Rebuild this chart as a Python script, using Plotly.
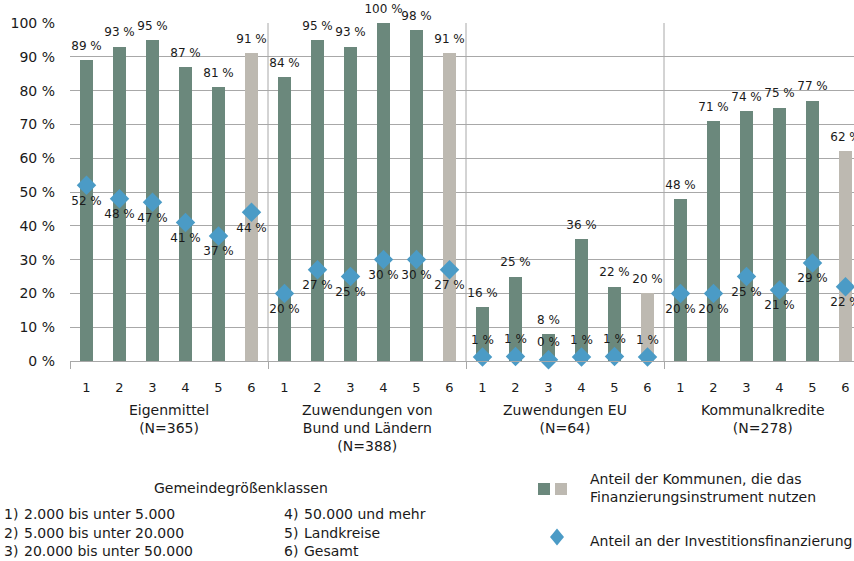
import plotly.graph_objects as go

# Gemeindegrößenklassen 1-6 within each financing instrument
classes = ["1", "2", "3", "4", "5", "6"]
instruments = [
    "Eigenmittel<br>(N=365)",
    "Zuwendungen von<br>Bund und Ländern<br>(N=388)",
    "Zuwendungen EU<br>(N=64)",
    "Kommunalkredite<br>(N=278)",
]

# Share of municipalities using the instrument (%)
usage_eigen = [89, 93, 95, 87, 81, 91]
usage_bund = [84, 95, 93, 100, 98, 91]
usage_eu = [16, 25, 8, 36, 22, 20]
usage_kredit = [48, 71, 74, 75, 77, 62]

# Share in investment financing (%)
invest_eigen = [52, 48, 47, 41, 37, 44]
invest_bund = [20, 27, 25, 30, 30, 27]
invest_eu = [1.2, 1.3, 0.4, 1.2, 1.3, 1.2]
invest_kredit = [20, 20, 25, 21, 29, 22]

legend_classes = [
    ("1)", "2.000 bis unter 5.000"),
    ("2)", "5.000 bis unter 20.000"),
    ("3)", "20.000 bis unter 50.000"),
    ("4)", "50.000 und mehr"),
    ("5)", "Landkreise"),
    ("6)", "Gesamt"),
]

GREEN = "#6B887C"
GREY = "#BDB9B1"
BLUE = "#4B9BC6"
GRID = "#A8A8A8"
FONT = "DejaVu Sans"
TXT = "#1A1A1A"

usage = usage_eigen + usage_bund + usage_eu + usage_kredit
invest = invest_eigen + invest_bund + invest_eu + invest_kredit
n_cls = len(classes)
n_grp = len(instruments)
xs = list(range(n_cls * n_grp))
bar_colors = [GREY if i % n_cls == n_cls - 1 else GREEN for i in xs]

# plot-area geometry in pixels (used to place the annotations below the axis)
W, H = 854, 561
L, T, B = 70, 23, 361
unit = 33.0
x_end = -0.5 + (W - L) / unit


def px(p):
    return (p - L) / (W - L)


def py(p):
    return (B - p) / (B - T)


fig = go.Figure()

fig.add_trace(go.Bar(
    x=xs, y=usage, width=0.4, marker=dict(color=bar_colors, line=dict(width=0)),
    hoverinfo="skip", showlegend=False,
))

# value labels above the bars
fig.add_trace(go.Scatter(
    x=xs, y=usage, mode="markers+text",
    marker=dict(size=10, opacity=0),
    text=[f"{v:.0f} %" for v in usage], textposition="top center",
    textfont=dict(family=FONT, size=12, color=TXT),
    cliponaxis=False, hoverinfo="skip", showlegend=False,
))

# diamonds with their labels; EU group labels sit above the markers
inv_pos = ["top center" if n_cls * 2 <= i < n_cls * 3 else "bottom center" for i in xs]
fig.add_trace(go.Scatter(
    x=xs, y=invest, mode="markers+text",
    marker=dict(symbol="diamond", size=15, color=BLUE, line=dict(width=0)),
    text=[f"{v:.0f} %" for v in invest], textposition=inv_pos,
    textfont=dict(family=FONT, size=12, color=TXT),
    cliponaxis=False, hoverinfo="skip", showlegend=False,
))

shapes = []
# vertical separators between instruments
for g in range(1, n_grp):
    xb = g * n_cls - 0.5
    shapes.append(dict(type="line", xref="x", yref="y", x0=xb, x1=xb, y0=0, y1=100,
                       line=dict(color=GRID, width=1), layer="below"))

# legend swatches
shapes.append(dict(type="rect", xref="paper", yref="paper",
                   x0=px(538), x1=px(550), y0=py(495), y1=py(483),
                   fillcolor=GREEN, line=dict(width=0)))
shapes.append(dict(type="rect", xref="paper", yref="paper",
                   x0=px(555), x1=px(567), y0=py(495), y1=py(483),
                   fillcolor=GREY, line=dict(width=0)))
dx, dy, cx, cy = 7, 8.5, 557, 537
shapes.append(dict(type="path", xref="paper", yref="paper",
                   path=(f"M {px(cx)} {py(cy - dy)} L {px(cx + dx)} {py(cy)} "
                         f"L {px(cx)} {py(cy + dy)} L {px(cx - dx)} {py(cy)} Z"),
                   fillcolor=BLUE, line=dict(width=0)))

annotations = []
for g, name in enumerate(instruments):
    xc = g * n_cls + (n_cls - 1) / 2
    annotations.append(dict(x=xc, xref="x", y=py(400), yref="paper", text=name,
                            showarrow=False, xanchor="center", yanchor="top",
                            font=dict(family=FONT, size=14, color=TXT)))

annotations.append(dict(x=px(241), y=py(488), xref="paper", yref="paper",
                        text="Gemeindegrößenklassen", showarrow=False,
                        xanchor="center", yanchor="middle",
                        font=dict(family=FONT, size=14, color=TXT)))
for k, (num, label) in enumerate(legend_classes):
    col, row = divmod(k, 3)
    x0 = 2 if col == 0 else 282
    yc = 514 + row * 18.5
    annotations.append(dict(x=px(x0), y=py(yc), xref="paper", yref="paper", text=num,
                            showarrow=False, xanchor="left", yanchor="middle",
                            font=dict(family=FONT, size=14, color=TXT)))
    annotations.append(dict(x=px(x0 + 20), y=py(yc), xref="paper", yref="paper", text=label,
                            showarrow=False, xanchor="left", yanchor="middle",
                            font=dict(family=FONT, size=14, color=TXT)))

annotations.append(dict(x=px(588), y=py(488), xref="paper", yref="paper",
                        text="Anteil der Kommunen, die das<br>Finanzierungsinstrument nutzen",
                        showarrow=False, xanchor="left", yanchor="middle", align="left",
                        font=dict(family=FONT, size=14, color=TXT)))
annotations.append(dict(x=px(588), y=py(541), xref="paper", yref="paper",
                        text="Anteil an der Investitionsfinanzierung",
                        showarrow=False, xanchor="left", yanchor="middle", align="left",
                        font=dict(family=FONT, size=14, color=TXT)))

fig.update_layout(
    width=W, height=H,
    margin=dict(l=L, r=0, t=T, b=H - B, pad=0),
    paper_bgcolor="white", plot_bgcolor="white",
    bargap=0, showlegend=False,
    shapes=shapes, annotations=annotations,
    font=dict(family=FONT, color=TXT),
)

fig.update_xaxes(
    range=[-0.5, x_end],
    tickmode="array", tickvals=xs, ticktext=classes * n_grp,
    ticks="", ticklabelstandoff=14,
    tickfont=dict(family=FONT, size=13, color=TXT),
    showgrid=False, zeroline=False,
    showline=True, linecolor=GRID, linewidth=1,
    minor=dict(tickmode="array", tickvals=[g * n_cls - 0.5 for g in range(n_grp)],
               ticks="outside", ticklen=7, tickcolor=GRID, tickwidth=1, showgrid=False),
)

fig.update_yaxes(
    range=[0, 100],
    tickmode="array", tickvals=list(range(0, 101, 10)),
    ticktext=[f"{v} %" for v in range(0, 101, 10)],
    ticks="", ticklabelstandoff=14,
    tickfont=dict(family=FONT, size=14, color=TXT),
    showgrid=True, gridcolor=GRID, gridwidth=1,
    zeroline=False, showline=False,
)

fig.write_html("out.html")
